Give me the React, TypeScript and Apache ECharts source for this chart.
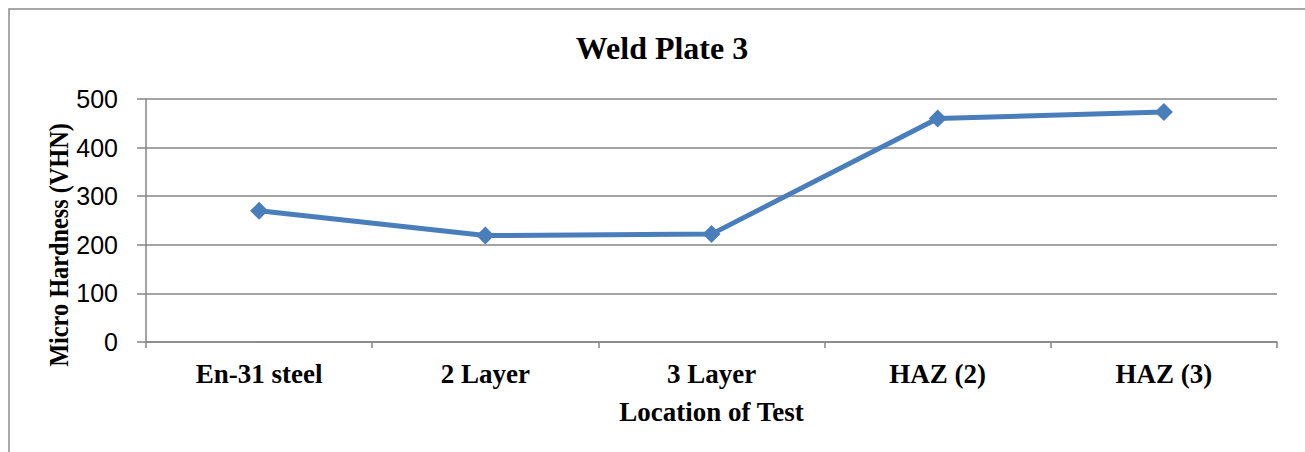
import React, { useEffect, useRef } from "react";
import * as echarts from "echarts";

const categories = ["En-31 steel", "2 Layer", "3 Layer", "HAZ (2)", "HAZ (3)"];
const hardness = [270, 219, 222, 460, 473];
const yTicks = [0, 100, 200, 300, 400, 500];

export default function App() {
  const ref = useRef<HTMLDivElement>(null);
  useEffect(() => {
    if (!ref.current) return;
    const chart = echarts.init(ref.current, undefined, { renderer: "svg" });
    const serif = "'Liberation Serif', 'Times New Roman', serif";
    const sans = "'Liberation Sans', Arial, sans-serif";
    chart.setOption({
      animation: false,
      backgroundColor: "#ffffff",
      graphic: [
        {
          type: "rect",
          shape: { x: 9, y: 9, width: 1310, height: 460 },
          style: { fill: "none", stroke: "#8c8c8c", lineWidth: 1.5 },
          silent: true,
        },
        {
          type: "text",
          x: 59,
          y: 245,
          rotation: Math.PI / 2,
          scaleX: 0.9,
          style: {
            text: "Micro Hardness (VHN)",
            fontFamily: serif,
            fontWeight: "bold",
            fontSize: 27,
            fill: "#000",
            align: "center",
            verticalAlign: "middle",
          },
          silent: true,
        },
      ],
      title: {
        text: "Weld Plate 3",
        left: 657,
        textAlign: "center",
        top: 27,
        textStyle: { fontFamily: serif, fontWeight: "bold", fontSize: 32, color: "#000" },
      },
      grid: { left: 146, right: 28, top: 99, bottom: 110, containLabel: false },
      xAxis: {
        type: "category",
        data: categories,
        boundaryGap: true,
        name: "Location of Test",
        nameLocation: "middle",
        nameGap: 56,
        nameTextStyle: { fontFamily: serif, fontWeight: "bold", fontSize: 27, color: "#000" },
        axisLine: { lineStyle: { color: "#868686", width: 1.5 } },
        axisTick: { show: true, length: 6, inside: false, lineStyle: { color: "#868686", width: 1.5 } },
        axisLabel: { fontFamily: serif, fontWeight: "bold", fontSize: 27, color: "#000", margin: 18 },
      },
      yAxis: {
        type: "value",
        min: yTicks[0],
        max: yTicks[yTicks.length - 1],
        interval: 100,
        axisLine: { show: true, lineStyle: { color: "#868686", width: 1.5 } },
        axisTick: { show: true, length: 9, lineStyle: { color: "#868686", width: 1.5 } },
        axisLabel: { fontFamily: sans, fontSize: 25, color: "#000", margin: 28 },
        splitLine: { show: true, lineStyle: { color: "#868686", width: 1.5 } },
      },
      series: [
        {
          type: "line",
          data: hardness,
          symbol: "diamond",
          symbolSize: 18,
          lineStyle: { color: "#4a7ebb", width: 5 },
          itemStyle: { color: "#4a7ebb" },
        },
      ],
    });
    return () => chart.dispose();
  }, []);
  return (
    <div
      ref={ref}
      style={{ position: "absolute", left: 0, top: 0, width: 1305, height: 452 }}
    />
  );
}
